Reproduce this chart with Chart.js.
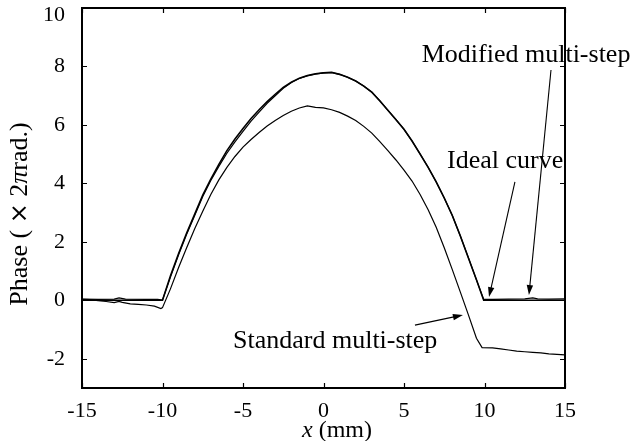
<!DOCTYPE html>
<html>
<head>
<meta charset="utf-8">
<script src="https://cdn.jsdelivr.net/npm/chart.js@4.4.1/dist/chart.umd.min.js"></script>
<style>
  body { margin: 0; background: #fff; }
  canvas { display: block; }
</style>
</head>
<body>
<canvas id="phaseChart" width="638" height="441"></canvas>
<script>
// x positions (mm) and phase values (x 2 pi rad)
const idealX = [-15, -10, -9.5, -9, -8.5, -8, -7.5, -7, -6.5, -6, -5.5, -5, -4.5, -4, -3.5, -3, -2.5, -2, -1.5, -1, -0.5,
  0, 0.5, 1, 1.5, 2, 2.5, 3, 3.5, 4, 4.5, 5, 5.5, 6, 6.5, 7, 7.5, 8, 8.5, 9, 9.5, 9.95, 15];
const idealY = [0, 0, 0.85, 1.6, 2.3, 2.95, 3.6, 4.15, 4.65, 5.12, 5.52, 5.88, 6.22, 6.52, 6.8, 7.05, 7.28, 7.46, 7.6, 7.69, 7.75,
  7.78, 7.8, 7.73, 7.63, 7.5, 7.33, 7.12, 6.82, 6.5, 6.18, 5.85, 5.45, 5.0, 4.55, 4.05, 3.5, 2.9, 2.2, 1.45, 0.7, 0, 0];

const modifiedX = [-15, -14, -13, -12.7, -12.3, -11, -10.3, -10, -9.5, -9, -8.5, -8, -7.5, -7, -6.5, -6, -5.5, -5, -4.5, -4, -3.5, -3, -2.5, -2, -1.5, -1, -0.5,
  0, 0.5, 1, 1.5, 2, 2.5, 3, 3.5, 4, 4.5, 5, 5.5, 6, 6.5, 7, 7.5, 8, 8.5, 9, 9.5, 9.95, 10.5, 11.5, 12.5, 13, 13.3, 14, 15];
const modifiedY = [0.04, 0.03, 0.04, 0.08, 0.04, 0.03, 0.03, 0.01, 0.8, 1.56, 2.26, 2.9, 3.55, 4.1, 4.58, 5.03, 5.42, 5.78, 6.13, 6.44, 6.74, 7.0, 7.25, 7.45, 7.59, 7.68, 7.74,
  7.78, 7.79, 7.73, 7.63, 7.5, 7.33, 7.12, 6.83, 6.5, 6.19, 5.85, 5.45, 5.01, 4.55, 4.05, 3.5, 2.9, 2.2, 1.46, 0.7, 0.03, 0.03, 0.04, 0.05, 0.08, 0.05, 0.04, 0.05];

const standardX = [-15, -14.5, -14, -13.5, -13, -12.7, -12.5, -12, -11.5, -11, -10.5, -10.1, -10,
  -9.5, -9, -8.5, -8, -7.5, -7, -6.5, -6, -5.5, -5, -4.5, -4, -3.5, -3, -2.5, -2, -1.5, -1, -0.5,
  0, 0.5, 1, 1.5, 2, 2.5, 3, 3.5, 4, 4.5, 5, 5.5, 6, 6.5, 7, 7.5, 8, 8.5, 9, 9.5, 9.85,
  10.5, 11, 11.5, 12, 12.5, 13, 13.5, 14, 14.5, 15];
const standardY = [0.03, 0.02, -0.01, -0.04, -0.08, -0.04, -0.07, -0.12, -0.14, -0.16, -0.2, -0.28, -0.25,
  0.4, 1.12, 1.8, 2.45, 3.05, 3.62, 4.12, 4.55, 4.92, 5.24, 5.5, 5.74, 5.96, 6.15, 6.32, 6.47, 6.58, 6.65, 6.6,
  6.58, 6.52, 6.43, 6.3, 6.15, 5.95, 5.72, 5.43, 5.12, 4.8, 4.45, 4.08, 3.62, 3.1, 2.5, 1.8, 1.05, 0.28, -0.5, -1.3, -1.62,
  -1.63, -1.66, -1.7, -1.74, -1.76, -1.78, -1.8, -1.83, -1.85, -1.87];

const yTickValues = [-2, 0, 2, 4, 6, 8, 10];

// labels with arrows, in data units: text anchor, arrow tail, arrow head
const notes = [
  { text: 'Modified multi-step', at: [6.1, 8.16], from: [14.13, 7.88], to: [12.76, 0.18] },
  { text: 'Ideal curve', at: [7.67, 4.53], from: [11.89, 4.05], to: [10.28, 0.11] },
  { text: 'Standard multi-step', at: [-5.62, -1.64], from: [5.68, -0.85], to: [8.66, -0.5] }
];

const serif = "'Liberation Serif', 'Times New Roman', serif";

function toPoints(xs, ys) {
  return xs.map((x, i) => ({ x: x, y: ys[i] }));
}

function arrow(ctx, x1, y1, x2, y2) {
  const ang = Math.atan2(y2 - y1, x2 - x1);
  const len = 10, half = 3.2;
  ctx.beginPath();
  ctx.moveTo(x1, y1);
  ctx.lineTo(x2 - len * 0.8 * Math.cos(ang), y2 - len * 0.8 * Math.sin(ang));
  ctx.stroke();
  ctx.beginPath();
  ctx.moveTo(x2, y2);
  ctx.lineTo(x2 - len * Math.cos(ang) + half * Math.sin(ang), y2 - len * Math.sin(ang) - half * Math.cos(ang));
  ctx.lineTo(x2 - len * Math.cos(ang) - half * Math.sin(ang), y2 - len * Math.sin(ang) + half * Math.cos(ang));
  ctx.closePath();
  ctx.fill();
}

// frame with inward ticks, y labels, axis titles and the arrow labels
const decorations = {
  id: 'decorations',
  afterDraw(chart) {
    const { ctx, chartArea: a, scales: { x, y } } = chart;
    ctx.save();
    ctx.strokeStyle = '#000';
    ctx.fillStyle = '#000';

    ctx.lineWidth = 2;
    ctx.strokeRect(a.left, a.top, a.right - a.left, a.bottom - a.top);

    ctx.lineWidth = 1.2;
    ctx.beginPath();
    x.ticks.forEach(t => {
      const px = Math.round(x.getPixelForValue(t.value)) + 0.5;
      ctx.moveTo(px, a.bottom); ctx.lineTo(px, a.bottom - 5);
      ctx.moveTo(px, a.top); ctx.lineTo(px, a.top + 5);
    });
    y.ticks.forEach(t => {
      const py = Math.round(y.getPixelForValue(t.value)) + 0.5;
      ctx.moveTo(a.left, py); ctx.lineTo(a.left + 5, py);
      ctx.moveTo(a.right, py); ctx.lineTo(a.right - 5, py);
    });
    ctx.stroke();

    // y tick labels; the top one is kept inside the canvas as in the figure
    ctx.font = '22px ' + serif;
    ctx.textAlign = 'right';
    ctx.textBaseline = 'middle';
    y.ticks.forEach(t => {
      const py = Math.max(y.getPixelForValue(t.value), a.top + 7);
      ctx.fillText(String(t.value), a.left - 17, py);
    });

    // y title, mixed fonts
    const parts = [
      ['Phase ( ', '26px ' + serif],
      ['\u00d7', '24px "DejaVu Sans", sans-serif'],
      [' 2', '26px ' + serif],
      ['\u03c0', 'italic 26px ' + serif],
      ['rad.)', '26px ' + serif]
    ];
    let total = 0;
    parts.forEach(p => { ctx.font = p[1]; total += ctx.measureText(p[0]).width; });
    ctx.save();
    ctx.translate(27, 214);
    ctx.rotate(-Math.PI / 2);
    ctx.textBaseline = 'alphabetic';
    ctx.textAlign = 'left';
    let cx = -total / 2;
    parts.forEach(p => {
      ctx.font = p[1];
      ctx.fillText(p[0], cx, 0);
      cx += ctx.measureText(p[0]).width;
    });
    ctx.restore();

    // x title
    ctx.textBaseline = 'alphabetic';
    ctx.textAlign = 'left';
    ctx.font = 'italic 24px ' + serif;
    const xw = ctx.measureText('x').width;
    ctx.fillText('x', 302, 437);
    ctx.font = '24px ' + serif;
    ctx.fillText(' (mm)', 302 + xw, 437);

    // notes
    ctx.font = '26px ' + serif;
    ctx.lineWidth = 1.1;
    notes.forEach(n => {
      ctx.fillText(n.text, x.getPixelForValue(n.at[0]), y.getPixelForValue(n.at[1]));
      arrow(ctx,
        x.getPixelForValue(n.from[0]), y.getPixelForValue(n.from[1]),
        x.getPixelForValue(n.to[0]), y.getPixelForValue(n.to[1]));
    });
    ctx.restore();
  }
};

const lineStyle = { borderColor: '#000', pointRadius: 0, tension: 0, fill: false };

new Chart(document.getElementById('phaseChart'), {
  type: 'line',
  data: {
    datasets: [
      Object.assign({ label: 'Ideal curve', data: toPoints(idealX, idealY), borderWidth: 1.6 }, lineStyle),
      Object.assign({ label: 'Modified multi-step', data: toPoints(modifiedX, modifiedY), borderWidth: 1.2 }, lineStyle),
      Object.assign({ label: 'Standard multi-step', data: toPoints(standardX, standardY), borderWidth: 1.2 }, lineStyle)
    ]
  },
  options: {
    responsive: false,
    animation: false,
    layout: { padding: { top: 8, right: 73, left: 0, bottom: 0 } },
    plugins: { legend: { display: false }, tooltip: { enabled: false } },
    scales: {
      x: {
        type: 'linear',
        min: -15,
        max: 15,
        grid: { display: false, drawTicks: false, tickLength: 0 },
        border: { display: false },
        ticks: { stepSize: 5, color: '#000', font: { family: serif, size: 22 }, padding: 10, maxRotation: 0 },
        afterFit(scale) {
          scale.height = 53;
          scale.paddingLeft = 0;
          scale.paddingRight = 0;
        }
      },
      y: {
        type: 'linear',
        min: -3,
        max: 10,
        grid: { display: false, drawTicks: false, tickLength: 0 },
        border: { display: false },
        ticks: { display: false },
        afterBuildTicks(scale) { scale.ticks = yTickValues.map(v => ({ value: v })); },
        afterFit(scale) {
          scale.width = 82;
          scale.paddingTop = 0;
          scale.paddingBottom = 0;
        }
      }
    }
  },
  plugins: [decorations]
});
</script>
</body>
</html>
